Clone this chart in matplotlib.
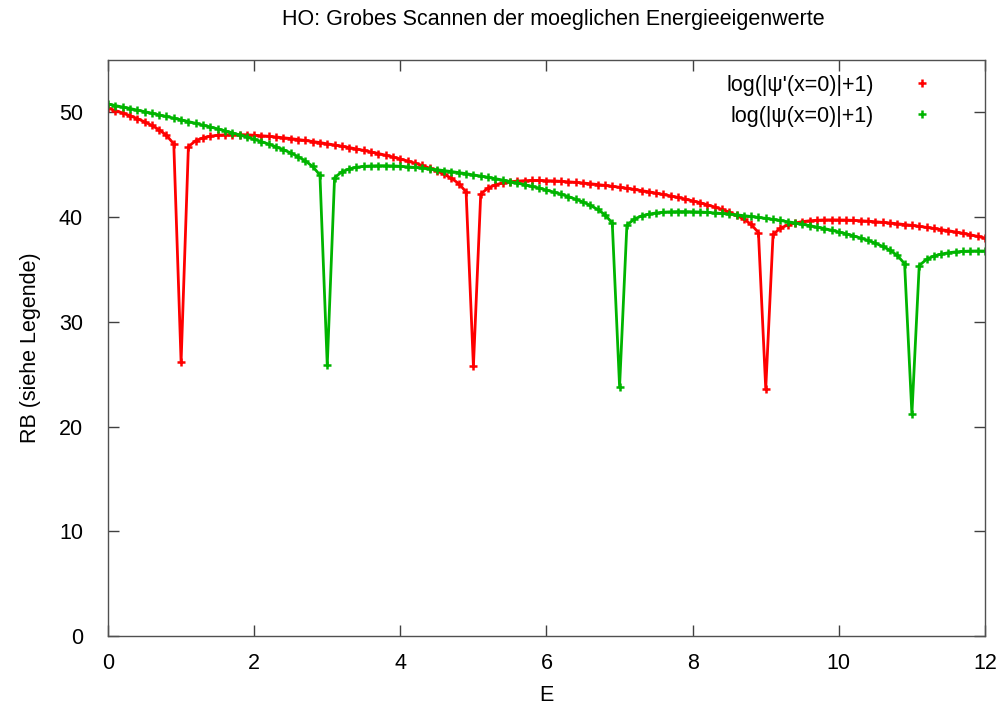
import numpy as np
import matplotlib
matplotlib.use('Agg')
import matplotlib.pyplot as plt
from matplotlib.lines import Line2D

plt.rcParams['font.family'] = ['Liberation Sans', 'DejaVu Sans']

# Energie-Raster (Schritt 0.1)
energie = np.round(np.arange(0, 121) * 0.1, 1)

# log(|psi'(x=0)|+1)
rb_ableitung = [
    50.40, 50.18, 49.94, 49.68, 49.41, 49.10, 48.75, 48.34, 47.81, 46.99,
    26.15, 46.73, 47.30, 47.57, 47.73, 47.81, 47.86, 47.88, 47.88, 47.86,
    47.82, 47.77, 47.72, 47.65, 47.58, 47.50, 47.41, 47.32, 47.22, 47.12,
    47.00, 46.89, 46.77, 46.64, 46.51, 46.37, 46.22, 46.07, 45.91, 45.74,
    45.55, 45.36, 45.15, 44.93, 44.68, 44.41, 44.09, 43.70, 43.20, 42.40,
    25.75, 42.20, 42.78, 43.08, 43.26, 43.37, 43.44, 43.48, 43.50, 43.50,
    43.48, 43.46, 43.42, 43.37, 43.32, 43.26, 43.19, 43.11, 43.03, 42.94,
    42.85, 42.75, 42.65, 42.53, 42.42, 42.29, 42.16, 42.02, 41.88, 41.72,
    41.55, 41.38, 41.18, 40.97, 40.74, 40.48, 40.17, 39.80, 39.31, 38.52,
    23.60, 38.34, 38.94, 39.25, 39.44, 39.57, 39.65, 39.70, 39.73, 39.74,
    39.73, 39.72, 39.69, 39.66, 39.61, 39.56, 39.50, 39.44, 39.37, 39.29,
    39.21, 39.12, 39.02, 38.92, 38.81, 38.70, 38.58, 38.45, 38.31, 38.16,
    38.00,
]

# log(|psi(x=0)|+1)
rb_wert = [
    50.80, 50.65, 50.51, 50.37, 50.22, 50.07, 49.92, 49.76, 49.61, 49.45,
    49.29, 49.12, 48.96, 48.78, 48.61, 48.43, 48.24, 48.05, 47.85, 47.65,
    47.43, 47.21, 46.97, 46.71, 46.44, 46.13, 45.78, 45.37, 44.84, 44.02,
    25.85, 43.76, 44.33, 44.60, 44.76, 44.84, 44.89, 44.91, 44.91, 44.89,
    44.85, 44.80, 44.75, 44.68, 44.61, 44.53, 44.44, 44.35, 44.25, 44.15,
    44.03, 43.92, 43.80, 43.67, 43.54, 43.40, 43.25, 43.10, 42.94, 42.77,
    42.58, 42.39, 42.19, 41.96, 41.71, 41.44, 41.12, 40.73, 40.23, 39.43,
    23.80, 39.23, 39.81, 40.11, 40.29, 40.40, 40.47, 40.51, 40.53, 40.53,
    40.51, 40.49, 40.45, 40.40, 40.35, 40.29, 40.22, 40.14, 40.06, 39.97,
    39.88, 39.78, 39.68, 39.56, 39.45, 39.32, 39.19, 39.05, 38.91, 38.75,
    38.58, 38.41, 38.21, 38.00, 37.77, 37.51, 37.20, 36.83, 36.34, 35.55,
    21.20, 35.37, 35.97, 36.28, 36.47, 36.60, 36.68, 36.73, 36.76, 36.77,
    36.76,
]

labels = ["log(|\u03c8'(x=0)|+1)", "log(|\u03c8(x=0)|+1)"]
farben = ['#ff0000', '#00b400']
fs = 15.5

fig = plt.figure(figsize=(10.01, 7.13), dpi=100)
ax = fig.add_axes([0.1079, 0.108, 0.8761, 0.8078])

for werte, farbe in zip([rb_ableitung, rb_wert], farben):
    ax.plot(energie, werte, color=farbe, lw=2, marker='+', ms=6, mew=1.8)

ax.set_xlim(0, 12)
ax.set_ylim(0, 55)
ax.set_xticks(np.arange(0, 13, 2))
ax.set_yticks(np.arange(0, 51, 10))
ax.tick_params(direction='in', length=8, width=1, color='#404040',
               top=True, right=True, labelsize=fs)
ax.tick_params(axis='x', pad=12)
ax.tick_params(axis='y', pad=18)
for s in ax.spines.values():
    s.set_color('#505050')
    s.set_linewidth(1)

ax.set_xlabel('E', fontsize=fs, labelpad=8)
ax.set_ylabel('RB (siehe Legende)', fontsize=fs, labelpad=13)
fig.text(0.553, 0.973, 'HO: Grobes Scannen der moeglichen Energieeigenwerte',
         ha='center', va='center', fontsize=fs)

handles = [Line2D([], [], color=f, ls='none', marker='+', ms=6, mew=1.8) for f in farben]
ax.legend(handles, labels, loc='upper right', frameon=False, markerfirst=False,
          fontsize=fs, handlelength=1.5, handletextpad=1.5, borderaxespad=0.29,
          labelspacing=0.46, bbox_to_anchor=(0.9636, 1.0))

fig.savefig('out.png', dpi=100)
